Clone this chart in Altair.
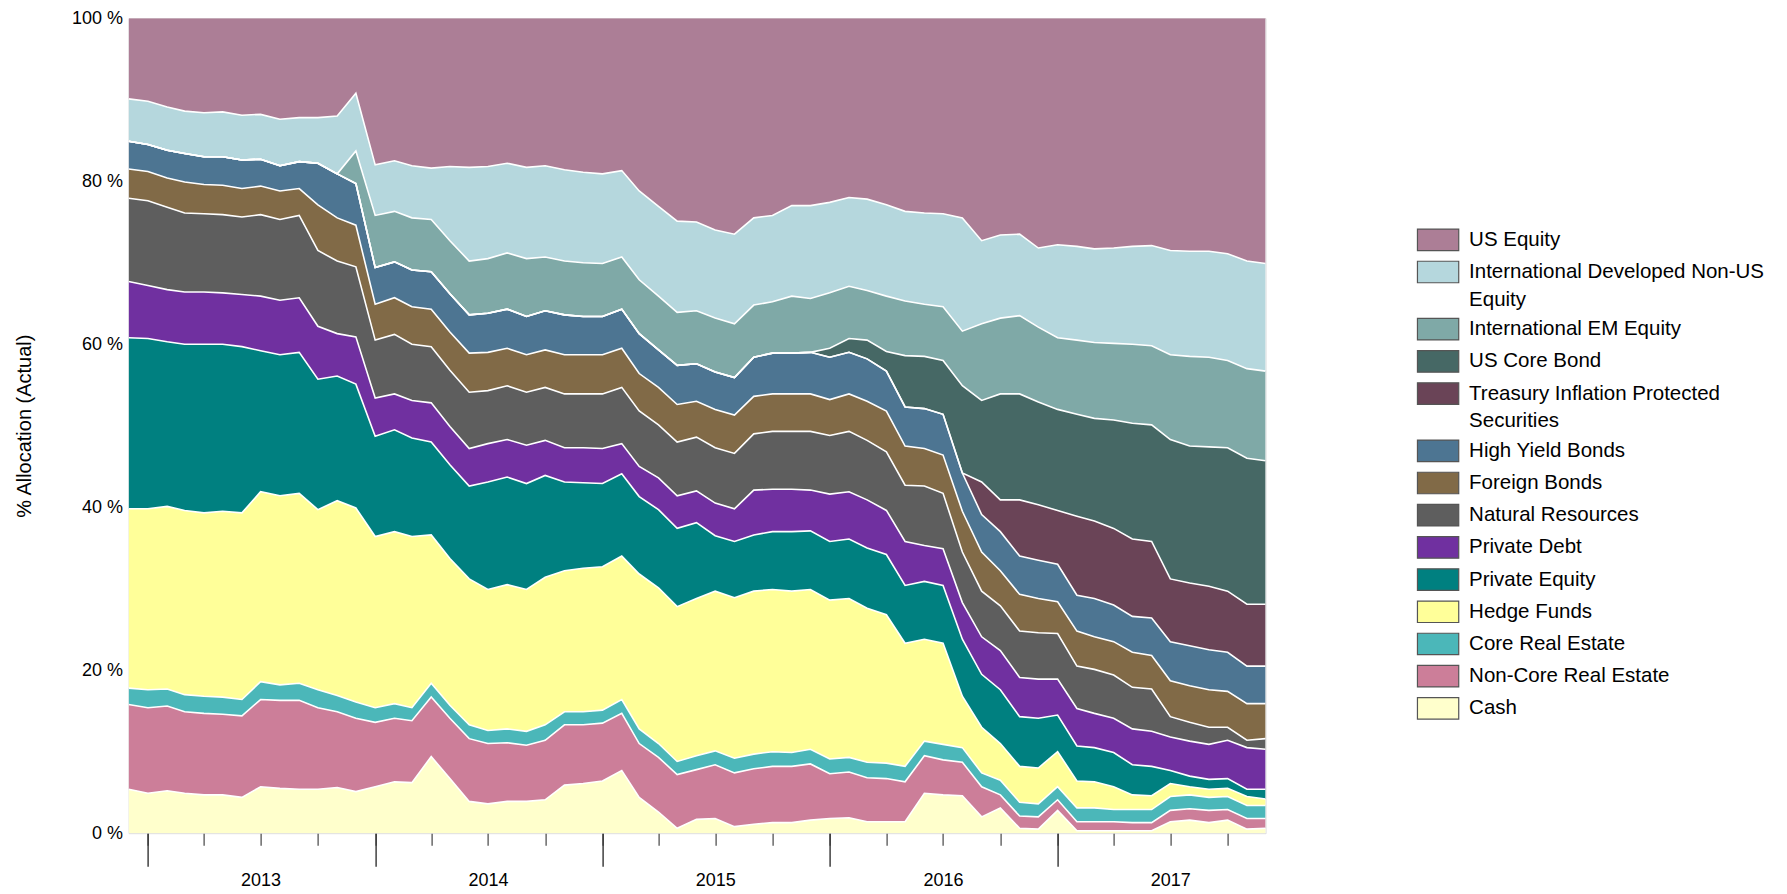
import altair as alt
import pandas as pd

FONT = "Liberation Sans"

months = [
    "2012-12-01",
    "2013-01-01", "2013-02-01", "2013-03-01", "2013-04-01", "2013-05-01", "2013-06-01",
    "2013-07-01", "2013-08-01", "2013-09-01", "2013-10-01", "2013-11-01", "2013-12-01",
    "2014-01-01", "2014-02-01", "2014-03-01", "2014-04-01", "2014-05-01", "2014-06-01",
    "2014-07-01", "2014-08-01", "2014-09-01", "2014-10-01", "2014-11-01", "2014-12-01",
    "2015-01-01", "2015-02-01", "2015-03-01", "2015-04-01", "2015-05-01", "2015-06-01",
    "2015-07-01", "2015-08-01", "2015-09-01", "2015-10-01", "2015-11-01", "2015-12-01",
    "2016-01-01", "2016-02-01", "2016-03-01", "2016-04-01", "2016-05-01", "2016-06-01",
    "2016-07-01", "2016-08-01", "2016-09-01", "2016-10-01", "2016-11-01", "2016-12-01",
    "2017-01-01", "2017-02-01", "2017-03-01", "2017-04-01", "2017-05-01", "2017-06-01",
    "2017-07-01", "2017-08-01", "2017-09-01", "2017-10-01", "2017-11-01", "2017-12-01",
]

cash = [5.4, 4.9, 5.2, 4.9, 4.7, 4.7, 4.4, 5.7, 5.5, 5.4,
        5.4, 5.6, 5.1, 5.7, 6.3, 6.2, 9.4, 6.7, 3.9, 3.6,
        3.9, 3.9, 4.1, 5.9, 6.1, 6.4, 7.7, 4.4, 2.6, 0.6,
        1.7, 1.8, 0.8, 1.1, 1.3, 1.3, 1.6, 1.8, 1.9, 1.4,
        1.4, 1.4, 4.9, 4.7, 4.6, 2.0, 3.1, 0.6, 0.5, 2.8,
        0.3, 0.3, 0.3, 0.3, 0.3, 1.4, 1.6, 1.3, 1.6, 0.5, 0.6]
non_core_re = [10.4, 10.5, 10.4, 10.0, 10.0, 9.9, 10.0, 10.7, 10.8, 10.9,
               10.0, 9.3, 9.0, 7.9, 7.8, 7.6, 7.3, 7.4, 7.7, 7.4,
               7.2, 6.9, 7.3, 7.4, 7.2, 7.1, 7.0, 6.6, 6.7, 6.6,
               6.1, 6.6, 6.6, 6.8, 6.9, 6.9, 6.9, 5.5, 5.6, 5.4,
               5.3, 4.9, 4.6, 4.3, 4.1, 3.7, 1.6, 1.5, 1.5, 1.3,
               1.1, 1.1, 1.1, 1.0, 1.0, 1.4, 1.4, 1.5, 1.3, 1.3, 1.2]
core_re = [2.0, 2.2, 2.1, 2.1, 2.1, 2.1, 2.0, 2.2, 1.9, 2.1,
           2.2, 2.0, 2.0, 1.8, 1.8, 1.6, 1.7, 1.6, 1.7, 1.6,
           1.7, 1.7, 1.9, 1.6, 1.6, 1.6, 1.7, 1.8, 1.7, 1.6,
           1.7, 1.7, 1.8, 1.8, 1.8, 1.7, 1.8, 1.8, 1.8, 1.9,
           1.9, 1.9, 1.8, 1.9, 1.8, 1.7, 1.8, 1.7, 1.6, 1.6,
           1.7, 1.7, 1.5, 1.6, 1.6, 1.7, 1.7, 1.6, 1.6, 1.6, 1.6]
hedge_funds = [22.0, 22.2, 22.4, 22.6, 22.5, 22.8, 22.9, 23.3, 23.2, 23.3,
               22.1, 23.9, 23.8, 21.0, 21.1, 21.0, 18.2, 18.0, 17.9, 17.3,
               17.7, 17.4, 18.1, 17.3, 17.6, 17.6, 17.6, 19.0, 19.1, 19.0,
               19.3, 19.6, 19.7, 20.0, 19.9, 19.8, 19.6, 19.5, 19.5, 18.9,
               18.2, 15.1, 12.5, 12.4, 6.3, 5.6, 4.5, 4.4, 4.4, 4.3,
               3.3, 3.2, 2.8, 1.8, 1.7, 1.6, 1.0, 1.0, 1.0, 1.1, 0.8]
private_equity = [21.0, 20.9, 20.2, 20.4, 20.7, 20.5, 20.4, 17.3, 17.3, 17.3,
                  16.0, 15.3, 15.2, 12.3, 12.5, 12.1, 11.4, 11.5, 11.4, 13.2,
                  13.2, 13.0, 12.5, 10.9, 10.5, 10.2, 10.1, 9.5, 9.6, 9.6,
                  9.3, 6.8, 6.9, 6.9, 7.1, 7.3, 7.2, 7.2, 7.3, 7.4,
                  7.4, 7.1, 7.1, 7.1, 7.0, 6.5, 6.6, 6.1, 6.1, 4.5,
                  4.3, 4.2, 4.2, 3.7, 3.6, 1.6, 1.3, 1.2, 1.2, 0.9, 1.2]
private_debt = [6.9, 6.5, 6.4, 6.4, 6.4, 6.3, 6.4, 6.7, 6.7, 6.7,
                6.5, 5.2, 5.8, 4.7, 4.4, 4.6, 4.8, 4.7, 4.6, 4.7,
                4.6, 4.7, 4.3, 4.2, 4.3, 4.3, 3.7, 3.7, 3.9, 4.0,
                3.9, 4.0, 4.0, 5.5, 5.2, 5.2, 5.0, 5.8, 5.8, 5.9,
                5.4, 5.4, 4.4, 4.5, 4.5, 4.6, 4.8, 4.8, 4.8, 4.4,
                4.6, 4.2, 4.2, 4.4, 4.3, 4.1, 4.3, 4.3, 4.7, 5.1, 4.9]
natural_resources = [10.2, 10.4, 10.1, 9.7, 9.6, 9.6, 9.5, 10.0, 9.9, 10.1,
                     9.3, 8.9, 8.6, 7.1, 7.3, 6.9, 6.9, 6.9, 6.9, 6.5,
                     6.6, 6.5, 6.5, 6.6, 6.6, 6.7, 6.9, 6.8, 6.5, 6.6,
                     6.6, 6.8, 6.8, 6.9, 7.1, 7.1, 7.2, 7.2, 7.4, 7.3,
                     7.2, 6.9, 7.3, 6.8, 6.2, 5.6, 5.5, 5.7, 5.7, 5.6,
                     5.2, 5.4, 5.3, 5.1, 5.2, 2.5, 2.3, 2.1, 1.6, 0.9, 1.3]
foreign_bonds = [3.6, 3.6, 3.6, 3.8, 3.6, 3.6, 3.5, 3.5, 3.5, 3.3,
                 5.6, 5.3, 5.1, 4.4, 4.5, 4.6, 4.6, 4.7, 4.8, 4.7,
                 4.6, 4.6, 4.6, 4.8, 4.8, 4.8, 4.8, 4.6, 4.6, 4.6,
                 4.4, 4.7, 4.7, 4.6, 4.6, 4.6, 4.6, 4.4, 4.6, 4.8,
                 5.0, 4.8, 4.6, 4.7, 5.0, 4.8, 4.3, 4.5, 4.2, 3.9,
                 4.3, 4.0, 4.1, 4.3, 4.1, 4.4, 4.5, 4.6, 4.4, 4.5, 4.3]
high_yield = [3.4, 3.3, 3.4, 3.5, 3.4, 3.5, 3.5, 3.3, 3.1, 3.3,
              5.1, 5.4, 5.1, 4.5, 4.4, 4.5, 4.6, 4.7, 4.7, 4.8,
              4.8, 4.7, 4.8, 4.9, 4.7, 4.7, 4.8, 4.9, 4.6, 4.8,
              4.6, 4.6, 4.6, 4.8, 5.0, 5.0, 5.1, 5.2, 5.1, 5.2,
              4.9, 4.8, 4.9, 5.0, 4.7, 4.6, 4.8, 4.7, 4.7, 4.6,
              4.4, 4.7, 4.5, 4.4, 4.6, 4.8, 4.9, 4.9, 4.8, 4.6, 4.6]
tips = [0.0] * 45 + [4.0, 3.9, 6.9, 6.8, 6.6,
                     9.7, 9.5, 9.4, 9.5, 9.4, 7.7, 7.7, 7.8, 7.5, 7.6, 7.6]
us_core_bond = [0.0] * 37 + [1.1, 1.7, 2.3,
                             2.4, 6.3, 6.4, 6.6, 10.7, 10.0, 13.0, 13.0, 12.6, 12.4,
                             12.5, 12.6, 13.3, 14.2, 14.3, 17.1, 16.8, 17.1, 17.6, 17.9, 17.6]
intl_em = [0.0] * 12 + [4.0, 6.4, 6.2, 6.4, 6.4, 6.5, 6.6, 6.7,
                        6.9, 7.1, 6.6, 6.6, 6.6, 6.5, 6.4, 6.6, 6.6, 6.5,
                        6.5, 6.6, 6.6, 6.4, 6.3, 7.0, 6.6, 6.8, 6.4, 6.1,
                        6.8, 6.7, 6.4, 6.6, 6.7, 9.4, 9.3, 9.6, 9.2, 8.8,
                        9.1, 9.3, 9.4, 9.7, 9.7, 10.4, 11.0, 11.0, 10.7, 11.0, 11.0]
intl_dev = [5.2, 5.3, 5.3, 5.2, 5.4, 5.5, 5.5, 5.5, 5.7, 5.4,
            5.6, 7.1, 7.1, 6.2, 6.2, 6.4, 6.3, 9.1, 11.5, 11.3,
            11.0, 11.2, 11.2, 11.2, 11.1, 11.0, 10.6, 10.9, 11.0, 11.2,
            10.9, 10.8, 11.0, 10.7, 10.6, 11.1, 11.4, 11.1, 10.9, 11.2,
            11.2, 11.0, 11.2, 11.4, 13.9, 10.2, 10.2, 10.0, 9.7, 11.4,
            11.5, 11.5, 11.7, 12.0, 12.3, 12.8, 12.9, 13.0, 13.1, 13.2, 13.2]
us_equity = [9.9, 10.2, 10.9, 11.4, 11.6, 11.5, 11.9, 11.8, 12.4, 12.2,
             12.2, 12.0, 9.2, 18.0, 17.5, 18.1, 18.4, 18.2, 18.3, 18.2,
             17.8, 18.3, 18.1, 18.6, 18.9, 19.1, 18.7, 21.2, 23.1, 24.9,
             25.0, 26.0, 26.5, 24.5, 24.2, 23.0, 23.0, 22.6, 22.0, 22.2,
             22.9, 23.7, 23.9, 24.0, 24.5, 27.3, 26.6, 26.5, 28.2, 27.8,
             28.0, 28.3, 28.2, 28.0, 27.9, 28.5, 28.6, 28.6, 28.9, 29.8, 30.1]

# bottom of the stack first
stack = [
    ("Cash", cash, "#FFFFCC"),
    ("Non-Core Real Estate", non_core_re, "#CC7E99"),
    ("Core Real Estate", core_re, "#4BB7B9"),
    ("Hedge Funds", hedge_funds, "#FFFF99"),
    ("Private Equity", private_equity, "#008080"),
    ("Private Debt", private_debt, "#7030A0"),
    ("Natural Resources", natural_resources, "#5E5E5E"),
    ("Foreign Bonds", foreign_bonds, "#816A47"),
    ("High Yield Bonds", high_yield, "#4D7592"),
    ("Treasury Inflation Protected Securities", tips, "#6A4457"),
    ("US Core Bond", us_core_bond, "#466865"),
    ("International EM Equity", intl_em, "#7FA9A7"),
    ("International Developed Non-US Equity", intl_dev, "#B5D7DD"),
    ("US Equity", us_equity, "#AC7E96"),
]

rows = []
for rank, (name, vals, _) in enumerate(stack):
    for d, v in zip(months, vals):
        rows.append({"date": d, "series": name, "value": v, "rank": rank})
df = pd.DataFrame(rows)

legend_domain = [s[0] for s in stack][::-1]
legend_range = [s[2] for s in stack][::-1]

quarters = [alt.DateTime(year=y, month=m, date=1, utc=True)
            for y in range(2013, 2018) for m in (1, 4, 7, 10)]
years = [alt.DateTime(year=y, month=1, date=1, utc=True) for y in range(2013, 2018)]

xscale = alt.Scale(type="utc", nice=False,
                   domain=[alt.DateTime(year=2012, month=12, date=1, utc=True),
                           alt.DateTime(year=2017, month=12, date=1, utc=True)])
yscale = alt.Scale(domain=[0, 100], nice=False)

label_expr = ("datum.label == 'International Developed Non-US Equity' ? "
              "['International Developed Non-US', 'Equity'] : "
              "datum.label == 'Treasury Inflation Protected Securities' ? "
              "['Treasury Inflation Protected', 'Securities'] : datum.label")

base = alt.Chart(df)

areas = base.mark_area(clip=True, interpolate="linear", opacity=1).encode(
    x=alt.X("date:T", scale=xscale,
            axis=alt.Axis(values=quarters, tickSize=12, tickColor="#444444", tickWidth=1.2,
                          labelExpr="utcmonth(datum.value) == 6 ? utcFormat(datum.value, '%Y') : ''",
                          labelPadding=26, labelFontSize=18, labelFont=FONT, labelColor="#000000",
                          labelOverlap=False, labelFlush=False, domain=False, grid=False,
                          title=None, orient="bottom")),
    y=alt.Y("value:Q", stack="zero", scale=yscale,
            axis=alt.Axis(values=[0, 20, 40, 60, 80, 100], labelExpr="datum.value + ' %'",
                          ticks=False, domain=False, grid=False, labelFontSize=18,
                          labelFont=FONT, labelColor="#000000", labelPadding=6,
                          title="% Allocation (Actual)", titleFont=FONT, titleFontSize=20,
                          titleFontWeight="normal", titleColor="#000000",
                          titleX=-104.6, titleY=407.5, titleAngle=270,
                          titleAlign="center", titleBaseline="middle")),
    color=alt.Color("series:N",
                    scale=alt.Scale(domain=legend_domain, range=legend_range),
                    legend=alt.Legend(title=None, orient="none", legendX=1298.5, legendY=210.6,
                                      labelFont=FONT, labelFontSize=20.5, labelColor="#000000",
                                      symbolType="M-2,-1.04H2V1.04H-2Z", symbolSize=426,
                                      symbolStrokeColor="#555555", symbolStrokeWidth=1.2,
                                      symbolOpacity=1, labelOffset=20, rowPadding=4.2,
                                      labelLimit=500, padding=0, labelExpr=label_expr)),
    order=alt.Order("rank:Q", sort="ascending"),
)

lines = base.transform_filter(
    "datum.series != 'US Equity'"
).transform_window(
    cum="sum(value)", groupby=["date"],
    sort=[alt.SortField("rank", order="ascending")], frame=[None, 0]
).mark_line(color="white", strokeWidth=1.6, clip=True, interpolate="linear").encode(
    x=alt.X("date:T", scale=xscale,
            axis=alt.Axis(values=years, tickSize=33, tickColor="#333333", tickWidth=1.4,
                          labels=False, domain=False, grid=False, title=None, orient="bottom")),
    y=alt.Y("cum:Q", scale=yscale, axis=None),
    detail="series:N",
)

chart = alt.layer(areas, lines).resolve_axis(x="independent", y="independent").properties(
    width=1137, height=815,
    autosize=alt.AutoSizeParams(type="none"),
    padding={"left": 120.6, "top": 10.2, "right": 505, "bottom": 58},
).configure_view(
    stroke="#8c8c8c", strokeWidth=1
).configure(
    style={"guide-label": {"lineHeight": 27.7}}
)

chart.save("out.html", embed_options={"renderer": "svg", "actions": False})
